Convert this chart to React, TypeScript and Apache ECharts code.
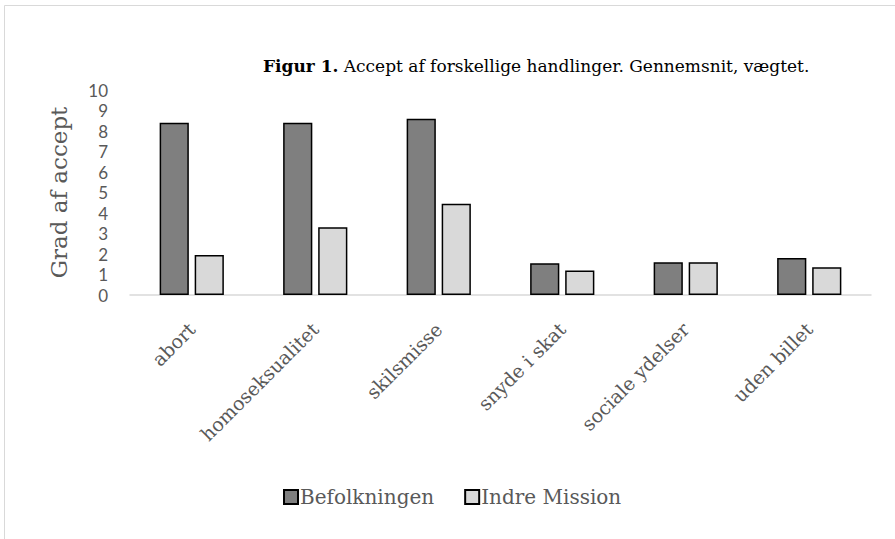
import React, { useEffect, useRef } from "react";
import * as echarts from "echarts";

const categories = ["abort", "homoseksualitet", "skilsmisse", "snyde i skat", "sociale ydelser", "uden billet"];
const befolkningen = [8.4, 8.4, 8.6, 1.55, 1.6, 1.8];
const indreMission = [1.95, 3.3, 4.45, 1.2, 1.6, 1.35];
const yTicks = [0, 1, 2, 3, 4, 5, 6, 7, 8, 9, 10];

const SERIF = "'DejaVu Serif', 'Liberation Serif', serif";
const SANS = "Lato, 'Open Sans', sans-serif";

export default function App() {
  const ref = useRef<HTMLDivElement>(null);
  useEffect(() => {
    document.body.style.margin = "0";
    const chart = echarts.init(ref.current!, null, { renderer: "svg" });
    chart.setOption({
      animation: false,
      backgroundColor: "#ffffff",
      title: {
        text: "{b|Figur 1.} Accept af forskellige handlinger. Gennemsnit, vægtet.",
        left: 258,
        top: 52,
        textStyle: {
          fontFamily: SERIF,
          fontSize: 17,
          fontWeight: "normal",
          color: "#000000",
          rich: {
            b: { fontFamily: SERIF, fontSize: 17, fontWeight: "bold", color: "#000000" },
          },
        },
      },
      graphic: [
        {
          type: "rect",
          shape: { x: 4.5, y: 5.5, width: 1000, height: 1000 },
          style: { fill: "none", stroke: "#d9d9d9", lineWidth: 1 },
          silent: true,
        },
      ],
      legend: {
        top: 482,
        left: 278,
        itemWidth: 14,
        itemHeight: 14,
        itemGap: 30,
        icon: "rect",
        textStyle: { fontFamily: SERIF, fontSize: 20, color: "#595959", padding: [0, 0, 0, -3] },
        data: ["Befolkningen", "Indre Mission"],
      },
      grid: { left: 130, right: 24, top: 90, bottom: 244, containLabel: false },
      xAxis: {
        type: "category",
        data: categories,
        axisLine: { show: true, lineStyle: { color: "#d9d9d9", width: 1.5 } },
        axisTick: { show: false },
        axisLabel: {
          rotate: 45,
          interval: 0,
          margin: 31,
          fontFamily: SERIF,
          fontSize: 19,
          color: "#595959",
        },
      },
      yAxis: {
        type: "value",
        min: 0,
        max: 10,
        interval: 1,
        name: "Grad af accept",
        nameLocation: "middle",
        nameGap: 60,
        nameTextStyle: { fontFamily: SERIF, fontSize: 23, color: "#595959" },
        splitLine: { show: false },
        axisLine: { show: false },
        axisTick: { show: false },
        axisLabel: {
          fontFamily: SANS,
          fontSize: 17,
          color: "#595959",
          margin: 22,
          formatter: (v: number) => (yTicks.includes(v) ? String(v) : ""),
        },
      },
      series: [
        {
          name: "Befolkningen",
          type: "bar",
          data: befolkningen,
          barGap: "20%",
          barCategoryGap: "48%",
          itemStyle: { color: "#7f7f7f", borderColor: "#000000", borderWidth: 1.5 },
        },
        {
          name: "Indre Mission",
          type: "bar",
          data: indreMission,
          itemStyle: { color: "#d9d9d9", borderColor: "#000000", borderWidth: 1.5 },
        },
      ],
    });
    return () => chart.dispose();
  }, []);
  return <div ref={ref} style={{ width: 895, height: 539 }} />;
}
